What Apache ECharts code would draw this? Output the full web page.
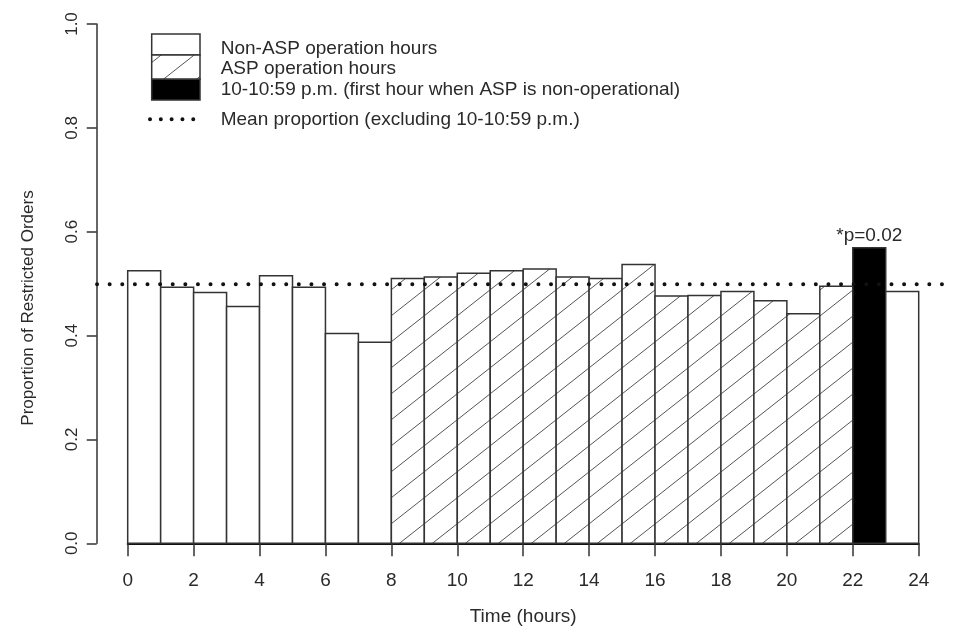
<!DOCTYPE html>
<html>
<head>
<meta charset="utf-8">
<script src="https://cdn.jsdelivr.net/npm/echarts@6/dist/echarts.min.js"></script>
<style>
html,body{margin:0;padding:0;background:#fff}
#chart{width:959px;height:630px}
</style>
</head>
<body>
<div id="chart"></div>
<script>
// ---- data ----
const hours = [0,1,2,3,4,5,6,7,8,9,10,11,12,13,14,15,16,17,18,19,20,21,22,23];
const proportions = [0.525,0.493,0.483,0.456,0.515,0.493,0.404,0.387,
                     0.510,0.513,0.520,0.525,0.528,0.513,0.510,0.537,
                     0.476,0.477,0.485,0.467,0.442,0.495,0.569,0.485];
const hourGroups = ['non','non','non','non','non','non','non','non',
                    'asp','asp','asp','asp','asp','asp','asp','asp',
                    'asp','asp','asp','asp','asp','asp','first','non'];
const meanProportion = [0.499];
const annotationHours = [22];
const annotationTexts = ['*p=0.02'];
const legendLabels = ['Non-ASP operation hours','ASP operation hours',
  '10-10:59 p.m. (first hour when ASP is non-operational)',
  'Mean proportion (excluding 10-10:59 p.m.)'];
const xTitle = 'Time (hours)';
const yTitle = 'Proportion of Restricted Orders';

// ---- styles ----
const FONT = '"Liberation Sans", Arial, Helvetica, sans-serif';
const TXT = '#2a2a2a';
const EDGE = '#333';

function makeHatch(){
  const W = 33, H = 26;
  const c = document.createElement('canvas');
  c.width = W; c.height = H;
  const g = c.getContext('2d');
  g.fillStyle = '#fff'; g.fillRect(0,0,W,H);
  g.strokeStyle = '#555'; g.lineWidth = 1;
  for (let k = -1; k <= 2; k++) {
    g.beginPath();
    g.moveTo(-W, 2*H + k*H);
    g.lineTo(2*W, -H + k*H);
    g.stroke();
  }
  return c;
}
const hatchPattern = {image: makeHatch(), repeat: 'repeat'};
function fillFor(grp){
  if (grp === 'asp') return hatchPattern;
  if (grp === 'first') return '#000';
  return '#fff';
}

const chart = echarts.init(document.getElementById('chart'), null, {renderer:'canvas'});

const barData = hours.map((h,i) => [h, proportions[i]]);

const option = {
  animation: false,
  backgroundColor: '#fff',
  grid: {left: 127.7, right: 40.3, top: 24, bottom: 86.7, outerBoundsMode: 'none'},
  xAxis: {
    type: 'value', min: 0, max: 24, interval: 2,
    axisLine: {show: true, onZero: false, lineStyle: {color: '#111', width: 2}},
    axisTick: {show: true, length: 13, lineStyle: {color: EDGE, width: 1.5}},
    axisLabel: {margin: 28, fontSize: 19, color: TXT, fontFamily: FONT, showMinLabel: true, showMaxLabel: true},
    splitLine: {show: false},
    name: xTitle, nameLocation: 'middle', nameGap: 73,
    nameTextStyle: {fontSize: 19, color: TXT, fontFamily: FONT, verticalAlign: 'middle'}
  },
  yAxis: {
    type: 'value', min: 0, max: 1, interval: 0.2, offset: 31,
    axisLine: {show: true, onZero: false, lineStyle: {color: EDGE, width: 1.5}},
    axisTick: {show: true, length: 10, lineStyle: {color: EDGE, width: 1.5}},
    axisLabel: {rotate: 90, margin: 16, fontSize: 17, color: TXT, fontFamily: FONT,
      showMinLabel: true, showMaxLabel: true, formatter: v => v.toFixed(1)},
    splitLine: {show: false}
  },
  series: [
    {
      type: 'custom',
      clip: false,
      data: barData,
      renderItem: function(params, api){
        const h = api.value(0), v = api.value(1);
        const p0 = api.coord([h, v]);
        const p1 = api.coord([h + 1, 0]);
        const grp = hourGroups[params.dataIndex];
        const children = [{
          type: 'rect',
          shape: {x: p0[0], y: p0[1], width: p1[0] - p0[0], height: p1[1] - p0[1]},
          style: {fill: fillFor(grp), stroke: EDGE, lineWidth: 1.5}
        }];
        const ai = annotationHours.indexOf(h);
        if (ai >= 0) {
          children.push({
            type: 'text',
            x: (p0[0] + p1[0]) / 2, y: p0[1] - 12,
            style: {text: annotationTexts[ai], fill: TXT, font: '19px ' + FONT,
                    align: 'center', verticalAlign: 'middle'}
          });
        }
        return {type: 'group', children: children};
      },
      z: 2
    },
    {
      type: 'custom',
      clip: false,
      data: meanProportion.map(m => [m]),
      renderItem: function(params, api){
        const m = api.value(0);
        const a = api.coord([-0.93, m]);
        const b = api.coord([24.92, m]);
        return {
          type: 'line',
          shape: {x1: a[0], y1: a[1], x2: b[0], y2: b[1]},
          style: {stroke: '#111', lineWidth: 4, lineDash: [0.01, 12.6], lineCap: 'round'}
        };
      },
      encode: {y: 0},
      z: 3
    }
  ],
  graphic: [
    {type: 'text', x: 28, y: 308, rotation: Math.PI / 2,
     style: {text: yTitle, fill: TXT, font: '17px ' + FONT, align: 'center', verticalAlign: 'middle'}},
    {type: 'rect', shape: {x: 151.7, y: 34, width: 48.3, height: 21},
     style: {fill: '#fff', stroke: EDGE, lineWidth: 1.5}},
    {type: 'rect', shape: {x: 151.7, y: 55, width: 48.3, height: 24.3},
     style: {fill: hatchPattern, stroke: EDGE, lineWidth: 1.5}},
    {type: 'rect', shape: {x: 151.7, y: 79.3, width: 48.3, height: 20.7},
     style: {fill: '#000', stroke: EDGE, lineWidth: 1.5}},
    {type: 'line', shape: {x1: 150, y1: 119.3, x2: 195, y2: 119.3},
     style: {stroke: '#111', lineWidth: 4, lineDash: [0.01, 10.8], lineCap: 'round'}},
    {type: 'text', x: 220.7, y: 48.8, style: {text: legendLabels[0], fill: TXT, font: '19px ' + FONT, align: 'left', verticalAlign: 'middle'}},
    {type: 'text', x: 220.7, y: 68.8, style: {text: legendLabels[1], fill: TXT, font: '19px ' + FONT, align: 'left', verticalAlign: 'middle'}},
    {type: 'text', x: 220.7, y: 89.7, style: {text: legendLabels[2], fill: TXT, font: '19px ' + FONT, align: 'left', verticalAlign: 'middle'}},
    {type: 'text', x: 220.7, y: 119.7, style: {text: legendLabels[3], fill: TXT, font: '19px ' + FONT, align: 'left', verticalAlign: 'middle'}}
  ]
};
chart.setOption(option);
</script>
</body>
</html>
